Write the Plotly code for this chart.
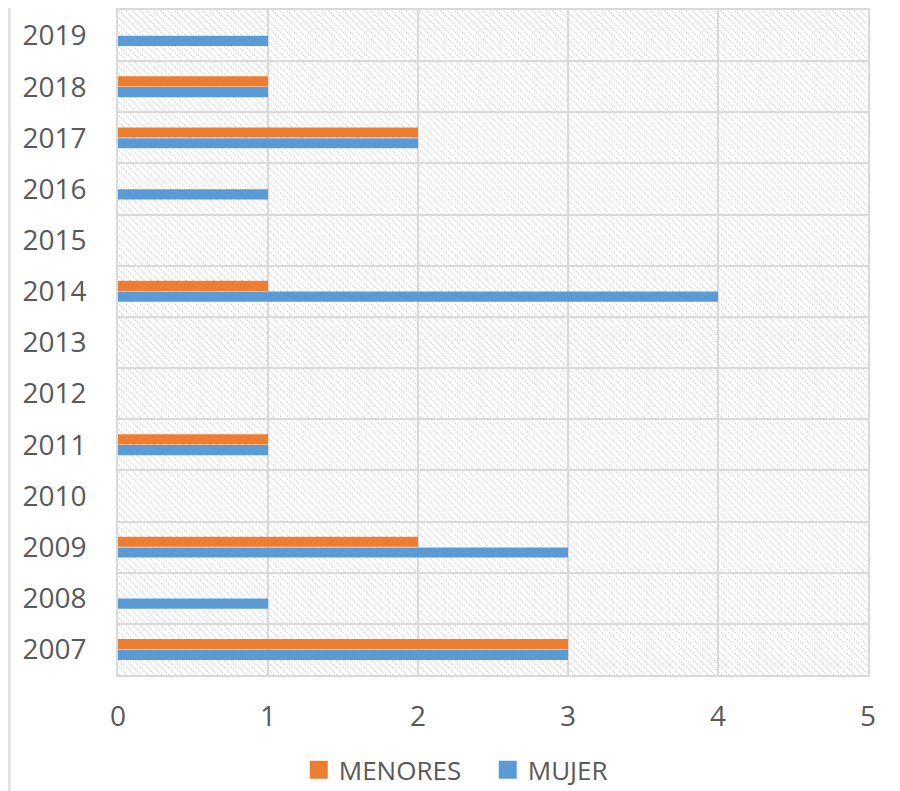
import base64
import plotly.graph_objects as go

years = ["2007", "2008", "2009", "2010", "2011", "2012", "2013",
         "2014", "2015", "2016", "2017", "2018", "2019"]
mujer = [3, 1, 3, 0, 1, 0, 0, 4, 0, 1, 2, 1, 1]
menores = [3, 0, 2, 0, 1, 0, 0, 1, 0, 0, 2, 1, 0]
x_ticks = [0, 1, 2, 3, 4, 5]

ORANGE = "#ED7D31"
BLUE = "#5B9BD5"
GRID = "#d9d9d9"
TEXT = "#595959"
FONT = "Open Sans"

svg = ('<svg xmlns="http://www.w3.org/2000/svg" width="750" height="667">'
       '<defs><pattern id="h" width="7" height="7" patternUnits="userSpaceOnUse">'
       '<path d="M-1,-1 L8,8 M6,-1 L8,1 M-1,6 L1,8" stroke="#d0d0d0" '
       'stroke-width="1.2" stroke-dasharray="1.6,1"/></pattern></defs>'
       '<rect width="100%" height="100%" fill="url(#h)"/></svg>')
svg_uri = "data:image/svg+xml;base64," + base64.b64encode(svg.encode()).decode()

fig = go.Figure()
fig.add_trace(go.Bar(y=years, x=mujer, orientation="h", name="MUJER",
                     marker=dict(color=BLUE, line=dict(width=0)), showlegend=False))
fig.add_trace(go.Bar(y=years, x=menores, orientation="h", name="MENORES",
                     marker=dict(color=ORANGE, line=dict(width=0)), showlegend=False))
# legend entries with larger square keys
fig.add_trace(go.Scatter(x=[None], y=[None], mode="markers", name="MENORES",
                         marker=dict(symbol="square", size=16, color=ORANGE,
                                     line=dict(color=ORANGE, width=2)),
                         legendrank=1))
fig.add_trace(go.Scatter(x=[None], y=[None], mode="markers", name="MUJER",
                         marker=dict(symbol="square", size=16, color=BLUE,
                                     line=dict(color=BLUE, width=2)),
                         legendrank=2))

fig.update_layout(
    width=900, height=791,
    margin=dict(l=110, r=40, t=0, b=124),
    paper_bgcolor="white",
    plot_bgcolor="rgba(0,0,0,0)",
    barmode="group",
    bargap=0.58,
    bargroupgap=0.05,
    font=dict(family=FONT, size=28, color=TEXT),
    showlegend=True,
    legend=dict(orientation="h", x=0.241, xref="paper", y=0.037, yref="container",
                xanchor="left", yanchor="middle", itemsizing="trace",
                entrywidth=144, entrywidthmode="pixels",
                font=dict(family=FONT, size=26, color=TEXT),
                bgcolor="rgba(0,0,0,0)"),
    xaxis=dict(range=[0, 5], tickvals=x_ticks, showgrid=True, gridcolor=GRID,
               gridwidth=1.5, zeroline=False, showline=True, mirror=True,
               linecolor=GRID, linewidth=1.5, ticks="", ticklabelstandoff=16,
               tickfont=dict(family=FONT, size=28, color=TEXT)),
    yaxis=dict(type="category", categoryorder="array", categoryarray=years,
               tickson="boundaries", showgrid=True, gridcolor=GRID, gridwidth=1.5,
               showline=True, mirror=True, linecolor=GRID, linewidth=1.5,
               ticks="", ticklabelstandoff=24,
               tickfont=dict(family=FONT, size=28, color=TEXT)),
    images=[dict(source=svg_uri, xref="paper", yref="paper", x=0, y=1,
                 sizex=1, sizey=1, xanchor="left", yanchor="top",
                 sizing="stretch", layer="below")],
    shapes=[dict(type="line", xref="paper", yref="paper", x0=-0.1447, x1=-0.1447,
                 y0=-0.2, y1=1.05, line=dict(color="#e0e0e0", width=2.5))],
)

fig.write_html("out.html")
